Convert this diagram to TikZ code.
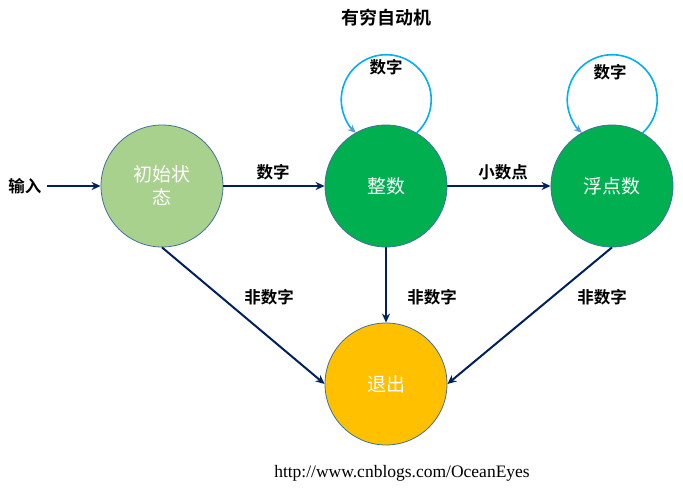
\documentclass[tikz,border=0pt]{standalone}
\usepackage{fontspec}
\setmainfont{Liberation Serif}
\newfontfamily\cjk{Noto Sans CJK SC}
\newfontfamily\cjkb{Noto Sans CJK SC Bold}
\usetikzlibrary{arrows.meta}
\definecolor{navy}{HTML}{002060}
\definecolor{rimc}{HTML}{41719C}
\definecolor{initc}{HTML}{A9D18E}
\definecolor{intc}{HTML}{00B050}
\definecolor{exitc}{HTML}{FFC000}
\definecolor{loopc}{HTML}{00B0F0}
\definecolor{tipc}{HTML}{5B9BD5}
\tikzset{
  state/.style={circle, minimum size=122pt, inner sep=0pt, draw=rimc, line width=0.8pt,
    text=white, font=\cjk\fontsize{19}{23}\selectfont, align=center},
  edge/.style={draw=navy, line width=2pt, -{Stealth[length=9pt,width=8pt]}},
  loopline/.style={draw=loopc, line width=1.6pt, -{Stealth[length=8pt,width=7pt,color=tipc]}},
  lab/.style={font=\cjkb\fontsize{16.5}{20}\selectfont, text=black, inner sep=0pt}
}
\begin{document}
\begin{tikzpicture}[x=1pt,y=1pt]
\useasboundingbox (0,0) rectangle (683,495);
\node[lab, font=\cjkb\fontsize{18}{22}\selectfont] (title) at (386,477) {有穷自动机};
\node[state, fill=initc] (init) at (162,309) {初始状\\态};
\node[state, fill=intc] (int) at (386,309) {整数};
\node[state, fill=intc] (flt) at (612,309) {浮点数};
\node[state, fill=exitc] (exit) at (386,111) {退出};
\node[lab] (inlab) at (25,309) {输入};
\coordinate (instart) at (47,309);
\draw[edge] (instart) -- (init.west);
\draw[edge] (init.east) -- (int.west);
\node[lab] (l1) at (273,323) {数字};
\draw[edge] (int.east) -- (flt.west);
\node[lab] (l2) at (503,323) {小数点};
\draw[edge] (init.south) -- (exit.west);
\draw[edge] (int.south) -- (exit.north);
\draw[edge] (flt.south) -- (exit.east);
\node[lab] (l3) at (269,198) {非数字};
\node[lab] (l4) at (432,198) {非数字};
\node[lab] (l5) at (602,198) {非数字};
\draw[loopline] (int.60) arc[start angle=-47.4, end angle=227.4, radius=45pt];
\draw[loopline] (flt.60) arc[start angle=-47.4, end angle=227.4, radius=45pt];
\node[lab] (l6) at (386,428) {数字};
\node[lab] (l7) at (610,423) {数字};
\node[font=\fontsize{17.5}{20}\selectfont, inner sep=0pt] (url) at (402,22) {http://www.cnblogs.com/OceanEyes};
\end{tikzpicture}
\end{document}
